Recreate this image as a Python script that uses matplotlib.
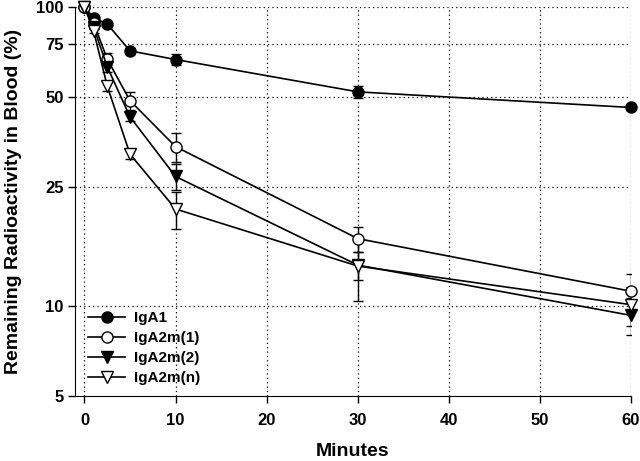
import numpy as np
import matplotlib
matplotlib.use("Agg")
import matplotlib.pyplot as plt
from matplotlib.ticker import FixedLocator, FixedFormatter, NullLocator

plt.rcParams['font.family'] = ['Liberation Sans', 'DejaVu Sans']
plt.rcParams['font.weight'] = 'bold'

# time points (minutes)
minutes = [0, 1, 2.5, 5, 10, 30, 60]

# remaining radioactivity (%) and error bars
iga1 = [100, 91.9, 87.7, 71.3, 66.7, 52.0, 46.1]
iga1_err = [0, 1.5, 1.5, 1.5, 3.0, 2.5, 1.0]

iga2m1 = [100, 88.6, 66.9, 48.6, 34.1, 16.8, 11.2]
iga2m1_err = [0, 2.0, 3.0, 3.5, 3.8, 1.6, 1.6]

iga2m2 = [100, 85.7, 63.1, 42.9, 27.1, 13.7, 9.3]
iga2m2_err = [0, 1.5, 2.5, 1.5, 2.7, 1.5, 1.3]

iga2mn = [100, 83.3, 54.4, 32.2, 21.1, 13.6, 10.1]
iga2mn_err = [0, 1.5, 2.0, 1.2, 3.0, 3.2, 1.5]

yticks = [5, 10, 25, 50, 75, 100]
xticks = [0, 10, 20, 30, 40, 50, 60]

fig = plt.figure(figsize=(6.4, 4.61), dpi=100)
ax = fig.add_axes([0.117, 0.141, 0.869, 0.844])

series = [
    (iga1, iga1_err, 'o', 'black', 'IgA1'),
    (iga2m1, iga2m1_err, 'o', 'white', 'IgA2m(1)'),
    (iga2m2, iga2m2_err, 'v', 'black', 'IgA2m(2)'),
    (iga2mn, iga2mn_err, 'v', 'white', 'IgA2m(n)'),
]

for vals, err, mk, fc, lab in series:
    ax.errorbar(minutes, vals, yerr=err, fmt='none', ecolor='black',
                elinewidth=1.0, capsize=3.5, capthick=1.0, zorder=2)
    ax.plot(minutes, vals, '-', marker=mk, color='black', mfc=fc,
            mec='black', ms=8, lw=1.2, label=lab, zorder=3, clip_on=False)

ax.set_yscale('log')
ax.set_ylim(5, 100)
ax.set_xlim(-1.05, 60)
ax.yaxis.set_major_locator(FixedLocator(yticks))
ax.yaxis.set_major_formatter(FixedFormatter([str(v) for v in yticks]))
ax.yaxis.set_minor_locator(NullLocator())
ax.set_xticks(xticks)

for v in [10, 25, 50, 75, 100]:
    ax.axhline(v, color='black', lw=0.9, ls=(0, (1, 2.5)), zorder=1)
for v in xticks:
    ax.axvline(v, color='black', lw=0.9, ls=(0, (1, 2.5)), zorder=1)

ax.spines['top'].set_visible(False)
ax.spines['right'].set_visible(False)
ax.tick_params(direction='out', length=5, width=1, labelsize=12, pad=3)
ax.tick_params(axis='x', pad=7)
for lbl in ax.get_xticklabels() + ax.get_yticklabels():
    lbl.set_fontweight('bold')

ax.set_xlabel('Minutes', fontsize=14, fontweight='bold', labelpad=11)
ax.set_ylabel('Remaining Radioactivity in Blood (%)', fontsize=14,
              fontweight='bold', labelpad=10)

leg = ax.legend(loc='lower left', frameon=False, fontsize=11,
                handlelength=2.4, handletextpad=0.6, labelspacing=0.4,
                borderaxespad=0.3, bbox_to_anchor=(0.005, 0.0))
for t in leg.get_texts():
    t.set_fontweight('bold')

fig.savefig('out.png', dpi=100)
